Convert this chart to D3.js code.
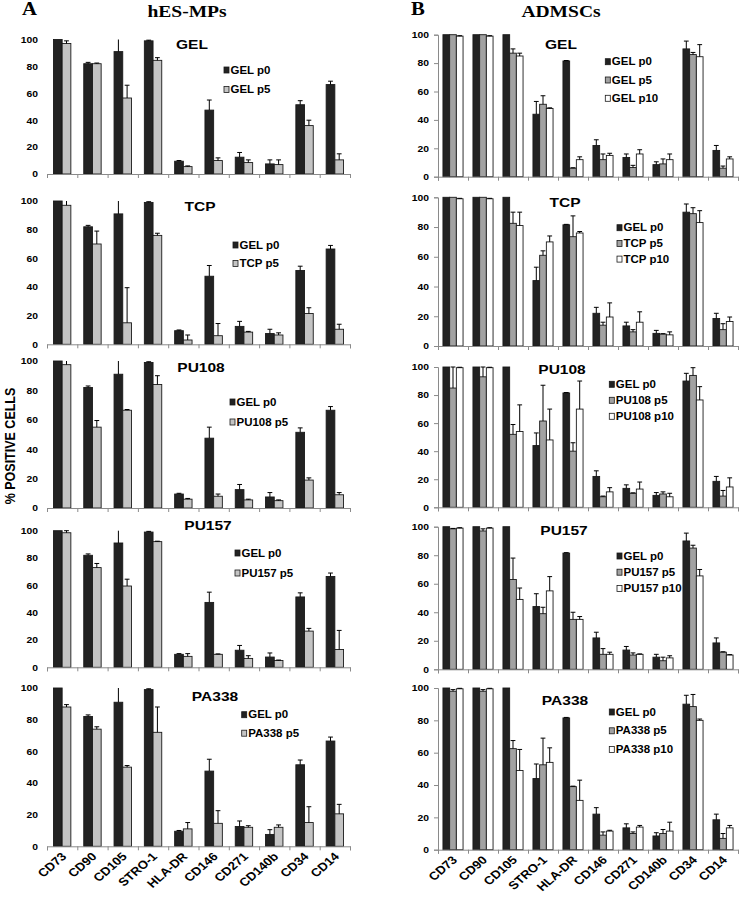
<!DOCTYPE html>
<html>
<head>
<meta charset="utf-8">
<script src="https://cdn.jsdelivr.net/npm/d3@7"></script>
<style>
  body { margin: 0; background: #fff; }
  svg { display: block; }
</style>
</head>
<body>
<div id="chart"></div>
<script>
// marker names on the x axis
var categories = ["CD73", "CD90", "CD105", "STRO-1", "HLA-DR", "CD146", "CD271", "CD140b", "CD34", "CD14"];
var yTicks = [0, 20, 40, 60, 80, 100];
var scaffolds = ["GEL", "TCP", "PU108", "PU157", "PA338"];

// hES-MPs (panel A): GEL p0 reference + p5 on each scaffold
var hesP0 = [100, 82, 91, 99, 9.5, 47.5, 12.5, 7.5, 51.5, 66.5];
var hesP0Err = [0.4, 1, 10, 0.5, 0.5, 7.5, 3.5, 3, 3, 2.5];

var hesGelP5 = [97, 82, 56.5, 84.5, 5.5, 10, 8.5, 7, 36, 10.5];
var hesGelP5Err = [2, 0.5, 9.5, 2, 0.5, 2, 2, 3.5, 4, 4.5];
var hesTcpP5 = [97, 70, 15, 76, 3, 6, 8.5, 6.5, 21.5, 10.5];
var hesTcpP5Err = [3.5, 9, 24.5, 1.5, 3.5, 8.5, 0.5, 1.5, 4, 3.5];
var hesPu108P5 = [97.5, 55, 66.5, 84, 6, 8, 5.5, 5, 19, 9];
var hesPu108P5Err = [3, 4.5, 0.5, 6, 0.5, 1.5, 0.5, 0.5, 1.5, 1.5];
var hesPu157P5 = [98.5, 73, 59.5, 92, 8, 9.5, 6.5, 5, 26.5, 13];
var hesPu157P5Err = [1.5, 3, 5, 0.3, 2, 0.3, 2, 0.3, 2, 14];
var hesPa338P5 = [88, 74, 50, 72, 11, 14.5, 12, 12, 15, 20.5];
var hesPa338P5Err = [1.5, 1.5, 1, 16, 4, 8, 1, 1.5, 10, 6];

// ADMSCs (panel B): GEL p0 reference + p5 and p10 on each scaffold
var admP0 = [100, 100, 100, 44, 81.5, 22, 13.5, 8.5, 90, 18.5];
var admP0Err = [0.3, 0.3, 0.3, 9, 0.3, 4, 2.5, 2, 5.5, 3.5];

var admGelP5 = [100, 100, 87, 51, 6, 12, 6.5, 9, 86, 6];
var admGelP5Err = [0.3, 0.3, 3, 6, 0.3, 4, 1.5, 3.5, 1.5, 1.5];
var admGelP10 = [99, 99, 85, 48, 12, 15, 16, 12, 84.5, 12.5];
var admGelP10Err = [0.3, 0.3, 2, 0.5, 2, 1.5, 3, 4, 8.5, 1.5];

var admTcpP5 = [100, 100, 82.5, 61, 73.5, 14, 9.5, 8, 89, 11];
var admTcpP5Err = [0.3, 0.3, 7.5, 3, 14, 2, 1.5, 0.3, 4, 4];
var admTcpP10 = [99, 99, 81, 70, 76, 19.5, 16, 7.5, 83, 16.5];
var admTcpP10Err = [0.3, 0.3, 9, 4, 1, 9.5, 7, 2, 8, 3];

var admPu108P5 = [85, 93, 52, 61.5, 40, 7.5, 10, 9.5, 94, 8];
var admPu108P5Err = [15, 7, 7, 25.5, 6, 0.5, 0.3, 1.5, 5.5, 4];
var admPu108P10 = [99.5, 99.5, 54, 48, 70, 11, 13, 7.5, 76.5, 14.5];
var admPu108P10Err = [0.3, 0.3, 19, 22, 20, 3, 5, 2.5, 9.5, 6.5];

var admPu157P5 = [98.5, 97, 63, 39, 35, 10.5, 10, 6, 85, 12];
var admPu157P5Err = [0.3, 1.5, 15, 4.5, 5, 4, 1.5, 2.5, 2, 0.3];
var admPu157P10 = [99, 99, 49, 55, 35, 10.5, 10.5, 8, 65.5, 10];
var admPu157P10Err = [0.3, 0.3, 8, 10, 2, 1.5, 0.3, 1.5, 4.5, 0.3];

var admPa338P5 = [98, 98, 62.5, 52.5, 39, 9, 10, 10, 88.5, 7];
var admPa338P5Err = [1, 1, 5, 16.5, 0.3, 2, 1, 2.5, 7.5, 3];
var admPa338P10 = [99.5, 99.5, 49, 54, 30.5, 11.5, 14, 11.5, 80, 13.5];
var admPa338P10Err = [0.3, 0.3, 13, 9, 12.5, 0.5, 1, 5.5, 0.8, 1.5];

var hesP5 = [hesGelP5, hesTcpP5, hesPu108P5, hesPu157P5, hesPa338P5];
var hesP5Err = [hesGelP5Err, hesTcpP5Err, hesPu108P5Err, hesPu157P5Err, hesPa338P5Err];
var admP5 = [admGelP5, admTcpP5, admPu108P5, admPu157P5, admPa338P5];
var admP5Err = [admGelP5Err, admTcpP5Err, admPu108P5Err, admPu157P5Err, admPa338P5Err];
var admP10 = [admGelP10, admTcpP10, admPu108P10, admPu157P10, admPa338P10];
var admP10Err = [admGelP10Err, admTcpP10Err, admPu108P10Err, admPu157P10Err, admPa338P10Err];

// ---- layout ----
var svgWidth = 744;
var svgHeight = 897;
var SX = 1.15; // the figure is a bit stretched sideways, so is the text
var sans = "'Liberation Sans', Arial, sans-serif";
var serif = "'Liberation Serif', 'Times New Roman', serif";

var leftCol = {
  x: [47, 350], barW: 8.7, showAxisLine: false,
  rows: [[39.5, 174], [201, 344.3], [361, 508], [530.7, 667.3], [688, 846.3]],
  titles: [[192, 48.8], [200, 210.5], [201, 371.5], [208, 530], [215, 700.5]],
  legends: [[224, 70, 19.5], [233, 245, 18.5], [230, 402, 20], [235, 553, 20], [241.7, 714.7, 18.5]]
};
var rightCol = {
  x: [438, 738], barW: 6.7, showAxisLine: true,
  rows: [[34.7, 176.7], [197.3, 346], [367, 507.3], [526.7, 669.3], [688, 849.7]],
  titles: [[561, 48.8], [565, 207.2], [562, 374.2], [564, 534.5], [565, 704.5]],
  legends: [[605.3, 61.7, 18.3], [617, 227.7, 15.7], [609.3, 384.3, 16], [617, 556, 16.2], [609.3, 712, 18.8]]
};

var svg = d3.select("#chart")
  .append("svg")
  .attr("width", svgWidth)
  .attr("height", svgHeight);

svg.append("rect")
  .attr("width", svgWidth)
  .attr("height", svgHeight)
  .attr("fill", "#fff");

function drawPanel(col, row, title, series, showXLabels) {
  var x0 = col.x[0], x1 = col.x[1];
  var yTop = col.rows[row][0], yBase = col.rows[row][1];

  var xBand = d3.scaleBand().domain(categories).range([x0, x1]);
  var y = d3.scaleLinear().domain([0, 100]).range([yBase, yTop]);
  var g = svg.append("g");

  // bars, one group per marker
  var n = series.length;
  series.forEach(function(s, si) {
    var off = (si - n / 2) * col.barW;
    g.selectAll(null)
      .data(s.values)
      .enter()
      .append("rect")
      .attr("x", (d, i) => xBand(categories[i]) + xBand.bandwidth() / 2 + off)
      .attr("y", d => y(d))
      .attr("width", col.barW)
      .attr("height", d => yBase - y(d))
      .attr("fill", s.fill)
      .attr("stroke", "#1a1a1a")
      .attr("stroke-width", 0.9);
  });

  // upper error bars, clipped at 100
  series.forEach(function(s, si) {
    var off = (si - n / 2) * col.barW + col.barW / 2;
    s.values.forEach(function(v, i) {
      var cx = xBand(categories[i]) + xBand.bandwidth() / 2 + off;
      var top = v + s.errs[i];
      var clipped = top > 100;
      g.append("line")
        .attr("x1", cx).attr("x2", cx)
        .attr("y1", y(v)).attr("y2", y(Math.min(top, 100)))
        .attr("stroke", "#000").attr("stroke-width", 1);
      if (!clipped) {
        g.append("line")
          .attr("x1", cx - 2.4).attr("x2", cx + 2.4)
          .attr("y1", y(top)).attr("y2", y(top))
          .attr("stroke", "#000").attr("stroke-width", 1);
      }
    });
  });

  // x axis line with ticks at the group boundaries
  var edge = d3.scaleLinear().domain([0, categories.length]).range([x0, x1]);
  var xAxis = g.append("g")
    .attr("transform", `translate(0, ${yBase})`)
    .call(d3.axisBottom(edge).tickValues(d3.range(categories.length + 1)).tickSize(4).tickFormat(""));
  xAxis.selectAll("path, line").attr("stroke", "#8a8a8a");

  if (showXLabels) {
    var labAxis = g.append("g")
      .attr("transform", `translate(0, ${yBase})`)
      .call(d3.axisBottom(xBand).tickSize(0));
    labAxis.select(".domain").remove();
    labAxis.selectAll("text")
      .attr("x", 0).attr("y", 0).attr("dy", 0)
      .attr("transform", `translate(5, 11) scale(${SX}, 1) rotate(-45)`)
      .style("text-anchor", "end")
      .style("font-family", sans)
      .style("font-weight", "bold")
      .style("font-size", "11.5px")
      .attr("fill", "#000");
  }

  // y axis
  var yAxis = g.append("g")
    .attr("transform", `translate(${x0}, 0)`)
    .call(d3.axisLeft(y).tickValues(yTicks).tickSize(col.showAxisLine ? 4 : 0));
  yAxis.selectAll("line").attr("stroke", "#8a8a8a");
  if (col.showAxisLine) {
    yAxis.select(".domain").attr("stroke", "#8a8a8a");
  } else {
    yAxis.select(".domain").remove();
  }
  yAxis.selectAll("text")
    .attr("x", 0)
    .attr("transform", `translate(-9, 0) scale(${SX}, 1)`)
    .style("font-family", sans)
    .style("font-weight", "bold")
    .style("font-size", "9px")
    .attr("fill", "#000");

  // panel title
  var tp = col.titles[row];
  svg.append("text")
    .attr("transform", `translate(${tp[0]}, ${tp[1]}) scale(${SX}, 1)`)
    .attr("text-anchor", "middle")
    .style("font-family", sans)
    .style("font-weight", "bold")
    .style("font-size", "13.5px")
    .text(title);

  // legend
  var lp = col.legends[row];
  series.forEach(function(s, si) {
    var ly = lp[1] + si * lp[2];
    svg.append("rect")
      .attr("x", lp[0]).attr("y", ly - 3)
      .attr("width", 5).attr("height", 6)
      .attr("fill", s.fill)
      .attr("stroke", "#1a1a1a")
      .attr("stroke-width", 0.8);
    svg.append("text")
      .attr("transform", `translate(${lp[0] + 6.5}, ${ly + 3.6}) scale(${SX}, 1)`)
      .style("font-family", sans)
      .style("font-weight", "bold")
      .style("font-size", "10px")
      .text(s.name);
  });
}

var darkFill = "#222";
var lightGrey = "#c4c4c4";
var midGrey = "#a2a2a2";

scaffolds.forEach(function(sc, r) {
  drawPanel(leftCol, r, sc, [
    { name: "GEL p0", values: hesP0, errs: hesP0Err, fill: darkFill },
    { name: sc + " p5", values: hesP5[r], errs: hesP5Err[r], fill: lightGrey }
  ], r === scaffolds.length - 1);

  drawPanel(rightCol, r, sc, [
    { name: "GEL p0", values: admP0, errs: admP0Err, fill: darkFill },
    { name: sc + " p5", values: admP5[r], errs: admP5Err[r], fill: midGrey },
    { name: sc + " p10", values: admP10[r], errs: admP10Err[r], fill: "#fff" }
  ], r === scaffolds.length - 1);
});

// column headers
svg.append("text")
  .attr("transform", `translate(22, 15) scale(${SX}, 1)`)
  .style("font-family", serif).style("font-weight", "bold").style("font-size", "18px")
  .text("A");
svg.append("text")
  .attr("transform", `translate(187, 16.5) scale(${SX}, 1)`)
  .attr("text-anchor", "middle")
  .style("font-family", serif).style("font-weight", "bold").style("font-size", "17px")
  .text("hES-MPs");
svg.append("text")
  .attr("transform", `translate(411, 15) scale(${SX}, 1)`)
  .style("font-family", serif).style("font-weight", "bold").style("font-size", "18px")
  .text("B");
svg.append("text")
  .attr("transform", `translate(561, 16.5) scale(${SX}, 1)`)
  .attr("text-anchor", "middle")
  .style("font-family", serif).style("font-weight", "bold").style("font-size", "17px")
  .text("ADMSCs");

// y axis title
svg.append("text")
  .attr("transform", `translate(15, 446) scale(${SX}, 1) rotate(-90)`)
  .attr("text-anchor", "middle")
  .style("font-family", sans).style("font-weight", "bold").style("font-size", "12.5px")
  .text("% POSITIVE CELLS");
</script>
</body>
</html>
